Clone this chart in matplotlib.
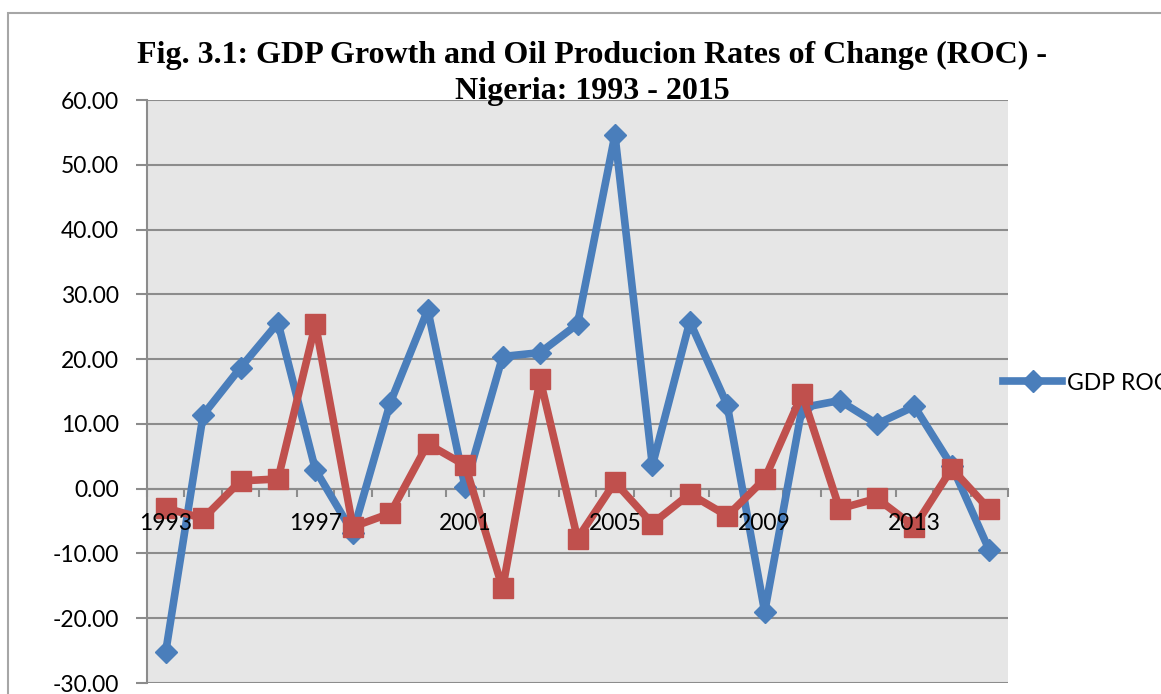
import matplotlib
matplotlib.use("Agg")
import matplotlib.pyplot as plt
from matplotlib.patches import Rectangle
from matplotlib.ticker import FixedLocator, FuncFormatter, NullFormatter
from matplotlib.transforms import offset_copy

years = list(range(1993, 2016))
gdp_roc = [-25.2, 11.4, 18.7, 25.6, 2.9, -6.8, 13.3, 27.6, 0.2, 20.4, 21.0, 25.4,
           54.6, 3.6, 25.8, 12.9, -19.0, 12.5, 13.6, 10.0, 12.7, 3.5, -9.5]
oil_roc = [-3.0, -4.6, 1.2, 1.5, 25.4, -5.9, -3.8, 6.9, 3.6, -15.4, 16.9, -7.7,
           1.0, -5.4, -0.8, -4.2, 1.5, 14.6, -3.1, -1.5, -5.9, 3.1, -3.2]
xlabel_years = [1993, 1997, 2001, 2005, 2009, 2013]
yticks = [-30, -20, -10, 0, 10, 20, 30, 40, 50, 60]
title1 = "Fig. 3.1: GDP Growth and Oil Producion Rates of Change (ROC) -"
title2 = "Nigeria: 1993 - 2015"

W, H = 1161, 694
fig = plt.figure(figsize=(W / 100, H / 100), dpi=100)
LBL_FONT = {"family": "Lato", "size": 16.5}

# outer chart frame
fig.patches.append(Rectangle((8 / W, -0.05), 1.1, 1 - 13 / H + 0.05, transform=fig.transFigure,
                             fill=False, edgecolor="#A6A6A6", linewidth=1.5))

ax = fig.add_axes([147 / W, 1 - 683 / H, (1008 - 147) / W, (683 - 100) / H])
ax.set_facecolor("#E6E6E6")

x = list(range(len(years)))
blue = "#4A7EBB"
red = "#C0504D"
gdp_line, = ax.plot(x, gdp_roc, color=blue, linewidth=5.5, marker="D", markersize=11.5,
                    markerfacecolor=blue, markeredgecolor=blue, zorder=3, label="GDP ROC")
ax.plot(x, oil_roc, color=red, linewidth=5.5, marker="s", markersize=15,
        markerfacecolor=red, markeredgecolor=red, zorder=4, label="Oil ROC")

ax.set_xlim(-0.5, len(years) - 0.5)
ax.set_ylim(-30, 60)
ax.set_yticks(yticks)
ax.yaxis.set_major_formatter(FuncFormatter(lambda v, p: f"{v:.2f}"))
ax.grid(axis="y", color="#8C8C8C", linewidth=1.5, zorder=1)
ax.set_axisbelow(True)

# x axis at zero
ax.spines["bottom"].set_position(("data", 0))
ax.spines["bottom"].set_color("#8C8C8C")
ax.spines["bottom"].set_linewidth(1.5)
ax.spines["left"].set_color("#8C8C8C")
ax.spines["left"].set_linewidth(1.5)
ax.spines["top"].set_visible(False)
ax.spines["right"].set_visible(False)

ax.xaxis.set_major_locator(FixedLocator([]))
ax.xaxis.set_minor_locator(FixedLocator([i - 0.5 for i in range(len(years) + 1)]))
ax.xaxis.set_minor_formatter(NullFormatter())
ax.tick_params(axis="x", which="minor", length=6, width=1.5, color="#8C8C8C", direction="out")
ax.tick_params(axis="y", length=8, width=1.5, color="#8C8C8C", pad=12)

for lbl in ax.get_yticklabels():
    lbl.set_fontfamily(LBL_FONT["family"])
    lbl.set_fontsize(LBL_FONT["size"])
    lbl.set_color("black")

# category labels drawn above the data lines (as in the reference)
lbl_tr = offset_copy(ax.transData, fig=fig, y=-25, units="points")
for yr in xlabel_years:
    ax.text(years.index(yr), 0, str(yr), transform=lbl_tr, ha="center", va="center",
            fontfamily=LBL_FONT["family"], fontsize=LBL_FONT["size"], zorder=10)

fig.text(592 / W, 1 - 63 / H, title1, ha="center", va="baseline", fontsize=23,
         fontweight="bold", family="Liberation Serif")
fig.text(592 / W, 1 - 99 / H, title2, ha="center", va="baseline", fontsize=23,
         fontweight="bold", family="Liberation Serif")

ax.legend(handles=[gdp_line], loc="center left", bbox_to_anchor=(0.994, 1 - (383 - 100) / 583),
          frameon=False, handlelength=2.6, handletextpad=0.2, borderaxespad=0, borderpad=0,
          prop={"family": LBL_FONT["family"], "size": LBL_FONT["size"]})

fig.savefig("out.png", dpi=100)
